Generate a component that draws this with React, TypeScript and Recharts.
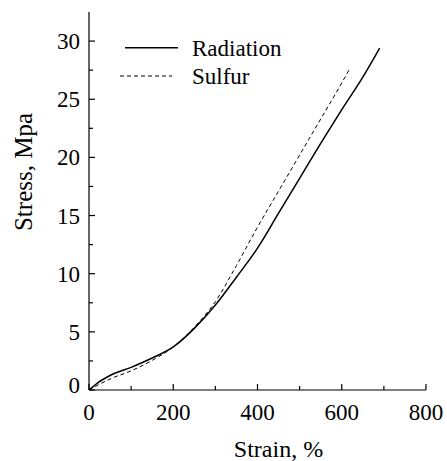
import React from 'react';
import { LineChart, Line, XAxis, YAxis, Legend } from 'recharts';

const radiationStrain = [0, 20, 50, 100, 150, 200, 250, 300, 350, 400, 450, 500, 550, 600, 650, 690];
const radiationStress = [0, 0.6, 1.25, 1.95, 2.75, 3.7, 5.3, 7.3, 9.7, 12.2, 15.2, 18.2, 21.2, 24.1, 26.9, 29.4];
const sulfurStrain = [0, 25, 50, 100, 150, 200, 250, 300, 350, 400, 450, 500, 550, 600, 617];
const sulfurStress = [0, 0.5, 0.95, 1.65, 2.55, 3.7, 5.4, 7.6, 10.7, 14.0, 17.1, 20.2, 23.3, 26.4, 27.5];
const seriesNames = ['Radiation', 'Sulfur'];
const xTicks = [0, 100, 200, 300, 400, 500, 600, 700, 800];
const yTicks = [0, 2.5, 5, 7.5, 10, 12.5, 15, 17.5, 20, 22.5, 25, 27.5, 30];
const xLabel = 'Strain, %';
const yLabel = 'Stress, Mpa';

const radiationData = radiationStrain.map((s, i) => ({ strain: s, stress: radiationStress[i] }));
const sulfurData = sulfurStrain.map((s, i) => ({ strain: s, stress: sulfurStress[i] }));

const FONT = "'Liberation Serif', 'DejaVu Serif', serif";
const txt = (size: number): React.CSSProperties => ({ fontFamily: FONT, fontSize: size });

const XTick = (props: any) => {
  const { x, y, payload } = props;
  const major = payload.value % 200 === 0;
  return (
    <g>
      <line x1={x} y1={y} x2={x} y2={y - (major ? 6 : 4)} stroke="#000" strokeWidth={1.2} />
      {major && (
        <text x={x} y={y + 30} textAnchor="middle" style={txt(23)} fill="#000">
          {payload.value}
        </text>
      )}
    </g>
  );
};

const YTick = (props: any) => {
  const { x, y, payload } = props;
  const major = payload.value % 5 === 0;
  return (
    <g>
      <line x1={x} y1={y} x2={x + (major ? 6 : 4)} y2={y} stroke="#000" strokeWidth={1.2} />
      {major && (
        <text x={x - 9} y={y + 8 - (payload.value === 0 ? 5 : 0)} textAnchor="end" style={txt(23)} fill="#000">
          {payload.value}
        </text>
      )}
    </g>
  );
};

const XAxisLabel = (props: any) => {
  const { viewBox } = props;
  const cx = viewBox.x + viewBox.width / 2 + 21;
  return (
    <text x={cx} y={viewBox.y + 67} textAnchor="middle" style={txt(24)} fill="#000">
      {xLabel}
    </text>
  );
};

const YAxisLabel = (props: any) => {
  const { viewBox } = props;
  const cx = 23;
  const cy = viewBox.y + viewBox.height / 2 - 29;
  return (
    <text x={cx} y={cy} transform={`rotate(-90 ${cx} ${cy})`} textAnchor="middle" dominantBaseline="central" style={txt(25)} fill="#000">
      {yLabel}
    </text>
  );
};

const LegendContent = () => (
  <svg width={200} height={60} style={{ overflow: 'visible' }}>
    <line x1={7} y1={13.7} x2={60} y2={13.7} stroke="#000" strokeWidth={1.4} />
    <text x={74} y={21.5} style={txt(23)} fill="#000">{seriesNames[0]}</text>
    <line x1={2} y1={42} x2={54} y2={42} stroke="#000" strokeWidth={1} strokeDasharray="4 3" />
    <text x={74} y={50} style={txt(23)} fill="#000">{seriesNames[1]}</text>
  </svg>
);

export default function App() {
  return (
    <div style={{ position: 'fixed', left: 0, top: 0, background: '#fff' }}>
      <LineChart width={447} height={461} margin={{ top: 12, right: 21, left: 0, bottom: 0 }}>
        <XAxis
          type="number"
          dataKey="strain"
          domain={[0, 800]}
          ticks={xTicks}
          tickSize={0}
          tickMargin={0}
          tickLine={false}
          tick={<XTick />}
          height={71}
          stroke="#000"
          strokeWidth={1.2}
          label={<XAxisLabel />}
          allowDataOverflow
        />
        <YAxis
          type="number"
          dataKey="stress"
          domain={[0, 32.5]}
          ticks={yTicks}
          tickSize={0}
          tickMargin={0}
          tickLine={false}
          tick={<YTick />}
          width={89}
          stroke="#000"
          strokeWidth={1.2}
          label={<YAxisLabel />}
          allowDataOverflow
        />
        <Legend
          layout="vertical"
          align="center"
          verticalAlign="middle"
          content={<LegendContent />}
          wrapperStyle={{ position: 'absolute', left: 118, top: 34, width: 200, height: 60 }}
        />
        <Line
          data={radiationData}
          dataKey="stress"
          name={seriesNames[0]}
          type="monotone"
          stroke="#000"
          strokeWidth={1.5}
          dot={false}
          isAnimationActive={false}
        />
        <Line
          data={sulfurData}
          dataKey="stress"
          name={seriesNames[1]}
          type="monotone"
          stroke="#000"
          strokeWidth={1}
          strokeDasharray="4 3"
          dot={false}
          isAnimationActive={false}
        />
      </LineChart>
    </div>
  );
}
